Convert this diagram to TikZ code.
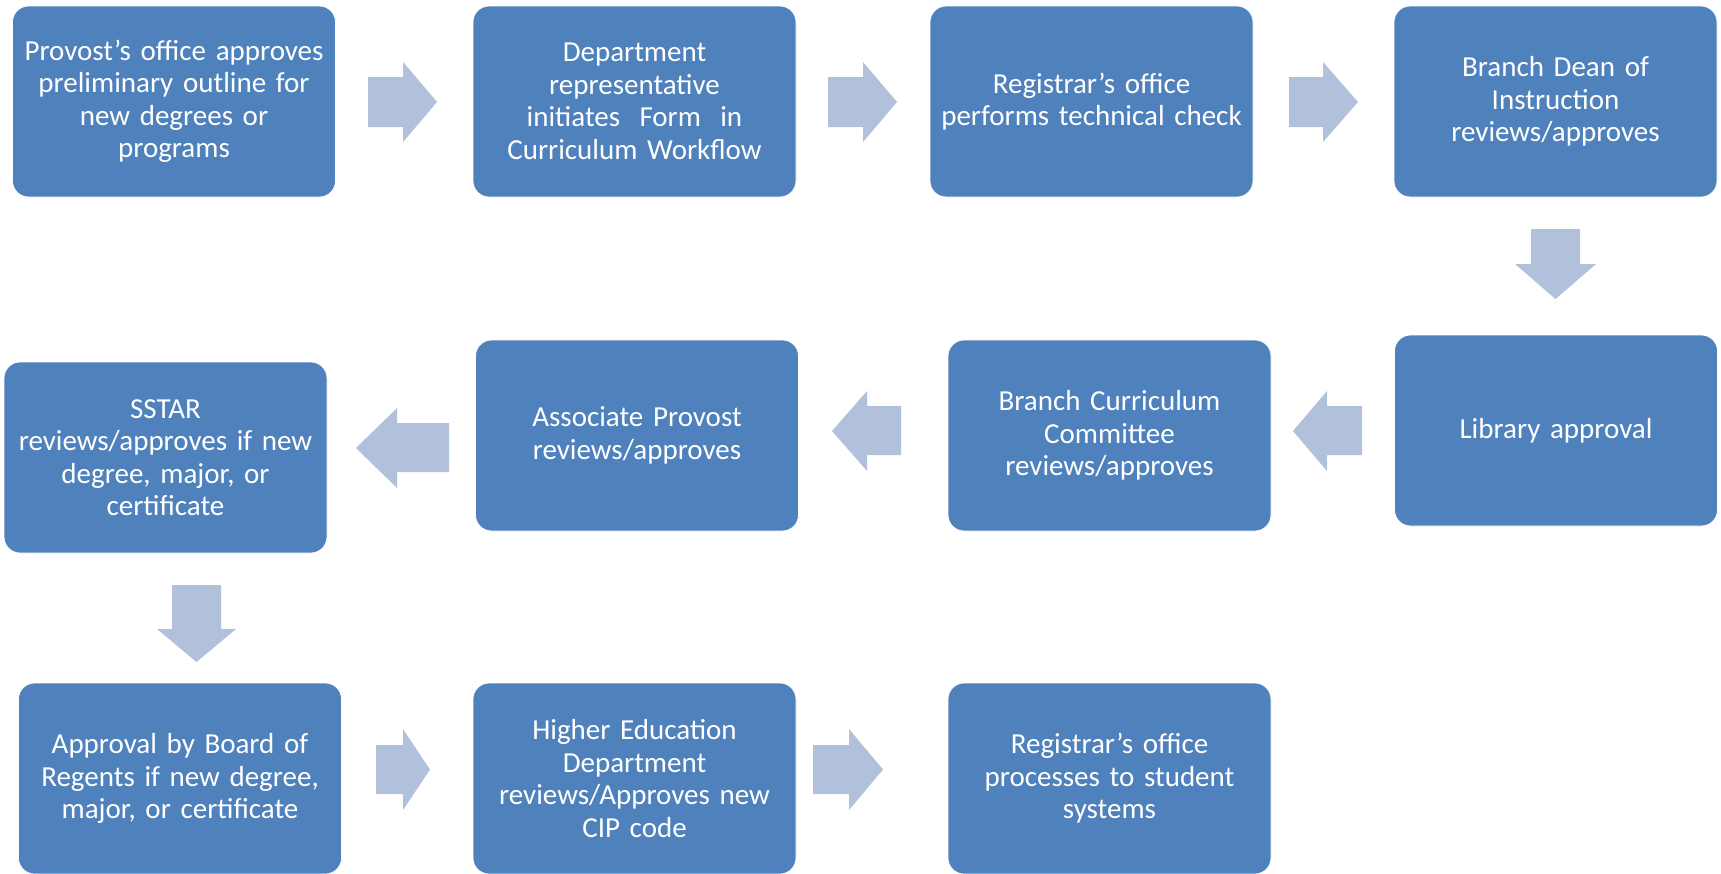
\documentclass[tikz,border=0pt]{standalone}
\usepackage{fontspec}
\setmainfont{Carlito}
\definecolor{boxblue}{HTML}{4F81BD}
\definecolor{arrblue}{HTML}{B1C1DC}
\tikzset{
  stepbox/.style={rectangle, rounded corners=16pt, fill=boxblue, draw=white, line width=0.8pt,
    minimum width=323pt, minimum height=191pt, inner sep=6pt, text=white, align=center,
    font=\fontsize{29}{32.5}\selectfont, text width=305pt},
  blockarr/.style={fill=arrblue, draw=none}
}
% right arrow: shaft start x, head back x, tip x, shaft top y, shaft bottom y, head top y, head bottom y
\newcommand\rarr[7]{\fill[blockarr] (#1,#4) -- (#2,#4) -- (#2,#6) -- (#3,{(#6+#7)/2}) -- (#2,#7) -- (#2,#5) -- (#1,#5) -- cycle;}
% down arrow: shaft left x, shaft right x, head left x, head right x, top y, head start y, tip y
\newcommand\darr[7]{\fill[blockarr] (#1,#5) -- (#2,#5) -- (#2,#6) -- (#4,#6) -- ({(#3+#4)/2},#7) -- (#3,#6) -- (#1,#6) -- cycle;}
\begin{document}
\begin{tikzpicture}[x=1pt,y=-1pt]
\useasboundingbox (0,0) rectangle (1721,873);
\fill[white] (0,0) rectangle (1721,873);
% boxes
\node[stepbox] (b1) at (174,101.5) {Provost’s office approves\\preliminary outline for\\new degrees or\\programs};
\node[stepbox] (b2) at (634.5,101.5) {Department\\representative\\initiates~ Form~ in\\Curriculum Workflow};
\node[stepbox] (b3) at (1091.5,101.5) {Registrar’s office\\performs technical check};
\node[stepbox] (b4) at (1555.5,101.5) {Branch Dean of\\Instruction\\reviews/approves};
\node[stepbox] (b5) at (1556,430.5) {Library approval};
\node[stepbox] (b6) at (1109.5,435.5) {Branch Curriculum\\Committee\\reviews/approves};
\node[stepbox] (b7) at (637,435.5) {Associate Provost\\reviews/approves};
\node[stepbox] (b8) at (165.5,457.5) {SSTAR\\reviews/approves if new\\degree, major, or\\certificate};
\node[stepbox] (b9) at (180,778.5) {Approval by Board of\\Regents if new degree,\\major, or certificate};
\node[stepbox] (b10) at (634.5,778.5) {Higher Education\\Department\\reviews/Approves new\\CIP code};
\node[stepbox] (b11) at (1109.5,778.5) {Registrar’s office\\processes to student\\systems};
% block arrows
\rarr{368}{403}{437}{77}{127}{62}{142}
\rarr{828}{863}{897}{77}{127}{62}{142}
\rarr{1289}{1323}{1358}{77}{127}{62}{142}
\darr{1531}{1580}{1515}{1596}{229}{264}{299}
\rarr{1362}{1327}{1293}{406}{455}{391}{471}
\rarr{901}{867}{832}{406}{455}{391}{471}
\rarr{449}{397}{356}{423}{472}{408}{488}
\darr{172}{221}{157}{236}{585}{629}{662}
\rarr{376}{403}{430}{745}{794}{729}{810}
\rarr{813}{849}{883}{745}{794}{729}{810}
\end{tikzpicture}
\end{document}
